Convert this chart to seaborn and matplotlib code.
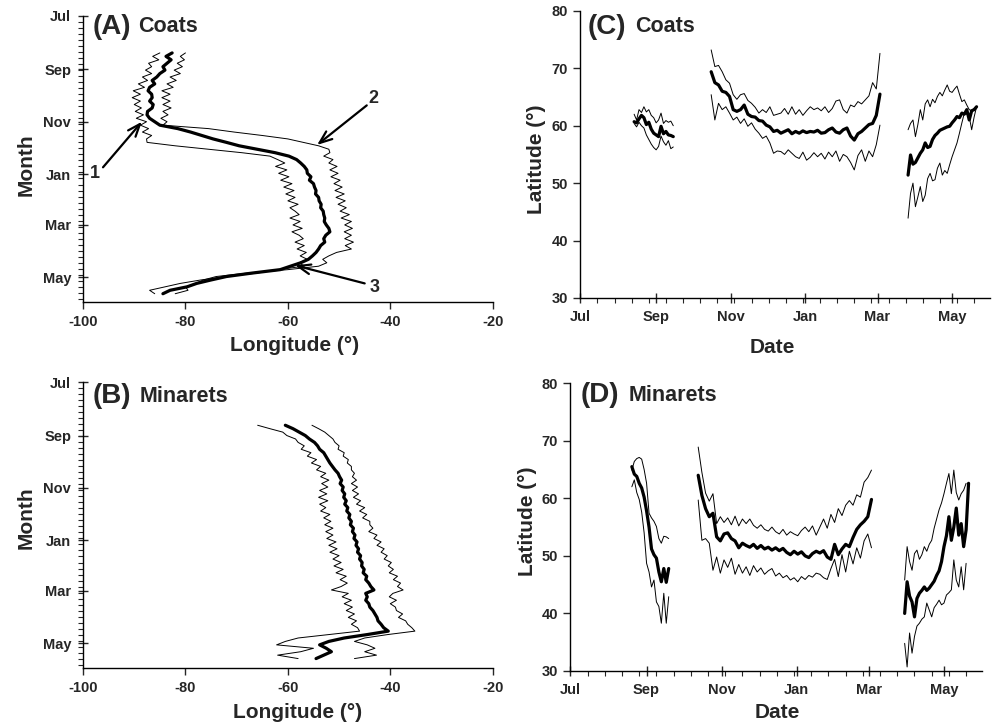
import numpy as np
import pandas as pd
import matplotlib
matplotlib.use('Agg')
import matplotlib.pyplot as plt
import seaborn as sns

# days counted from 1 July
month_days = [0, 62, 123, 184, 243, 304]
month_labels = ['Jul', 'Sep', 'Nov', 'Jan', 'Mar', 'May']
lon_ticks = [-100, -80, -60, -40, -20]
lat_ticks = [30, 40, 50, 60, 70, 80]

# (A) Coats - longitude by day
a_days = list(range(43, 324, 4))
a_mean = [-82.6, -83.8, -82.8, -83.6, -84.4, -84.0, -85.0, -85.6, -86.5, -86.0,
          -87.0, -87.3, -86.6, -86.5, -87.0, -86.3, -86.5, -87.4, -87.5, -87.0,
          -86.0, -85.0, -81.5, -79.0, -76.8, -74.6, -72.0, -69.5, -66.0, -62.5,
          -59.8, -58.3, -57.5, -56.8, -56.3, -56.2, -55.5, -55.8, -55.0, -54.8,
          -54.5, -54.6, -54.0, -53.9, -53.5, -53.6, -53.1, -53.0, -52.8, -52.9,
          -52.5, -52.0, -51.8, -52.6, -53.0, -52.8, -53.6, -54.0, -54.5, -55.2,
          -56.0, -57.5, -59.5, -61.5, -67.0, -72.0, -75.0, -77.8, -79.7, -83.0,
          -84.4]
a_west = [-85.0, -86.4, -85.2, -87.2, -86.6, -87.8, -86.6, -88.4, -87.4, -89.2,
          -88.0, -90.2, -88.8, -90.4, -88.8, -90.0, -88.6, -89.8, -88.2, -89.6,
          -87.6, -88.8, -87.2, -88.4, -86.6, -87.6, -87.5, -82.0, -75.5, -69.0,
          -63.5, -62.0, -60.6, -62.4, -60.2, -61.8, -59.8, -61.4, -59.2, -60.8,
          -58.8, -60.4, -58.6, -60.0, -58.0, -59.6, -58.6, -57.8, -59.6, -57.6,
          -59.0, -57.2, -59.2, -57.8, -57.0, -58.6, -56.8, -58.2, -56.4, -57.6,
          -56.2, -57.8, -56.8, -62.0, -66.0, -72.0, -77.0, -81.0, -84.0, -87.0,
          -86.0]
a_east = [-80.0, -81.0, -80.2, -81.6, -80.6, -82.2, -81.0, -83.0, -81.8, -83.6,
          -82.4, -84.6, -83.0, -84.6, -83.0, -84.4, -82.8, -84.4, -83.4, -84.8,
          -83.6, -84.4, -75.5, -70.5, -65.0, -60.0, -57.0, -54.0, -52.0, -51.8,
          -53.0, -51.2, -52.0, -50.4, -51.8, -50.2, -51.6, -49.8, -51.0, -49.4,
          -50.8, -49.0, -50.6, -48.8, -50.2, -48.6, -49.8, -48.0, -49.6, -47.6,
          -48.9, -47.4, -49.0, -47.6, -48.9, -47.2, -48.8, -47.6, -50.5, -52.0,
          -53.2, -52.4, -54.0, -60.0, -68.0, -74.0, -76.5, -78.0, -80.0, -79.5,
          -82.0]

# (B) Minarets - longitude by day
b_days = list(range(50, 323, 4))
b_mean = [-60.5, -59.0, -57.8, -56.6, -55.8, -54.8, -54.2, -53.8, -53.0, -52.6,
          -52.2, -51.8, -51.3, -50.8, -50.2, -49.9, -49.5, -49.8, -49.2, -49.4,
          -48.9, -49.1, -48.6, -48.9, -48.3, -48.5, -47.9, -48.1, -47.6, -47.8,
          -47.2, -47.4, -46.9, -47.1, -46.5, -46.7, -46.2, -46.4, -45.8, -46.0,
          -45.5, -45.6, -45.1, -45.3, -44.6, -44.8, -44.2, -43.8, -43.2, -44.8,
          -44.5, -44.8, -44.2, -44.0, -43.4, -43.0, -42.6, -42.4, -41.8, -41.3,
          -40.4, -44.5, -49.0, -52.0, -53.8, -52.5, -51.5, -53.0, -54.5]
b_west = [-65.9, -63.5, -61.0, -60.2, -58.5, -58.0, -56.8, -57.4, -55.5, -56.2,
          -54.4, -55.4, -53.6, -54.4, -52.6, -53.6, -52.0, -53.4, -52.2, -53.8,
          -52.4, -54.0, -52.2, -53.8, -52.6, -53.6, -51.8, -53.0, -51.6, -52.8,
          -51.2, -52.6, -51.2, -52.4, -50.6, -52.0, -50.4, -51.8, -50.0, -51.2,
          -49.6, -51.0, -49.2, -50.6, -48.6, -49.8, -48.4, -49.6, -51.5, -48.2,
          -49.4, -47.6, -49.0, -47.4, -48.6, -47.0, -48.2, -46.6, -47.6, -46.4,
          -46.0, -52.0, -58.0, -60.5, -62.2, -55.0, -57.5, -62.0, -58.0]
b_east = [-55.3, -54.0, -52.8, -52.0, -51.2, -50.8, -50.0, -50.2, -49.0, -49.2,
          -48.2, -48.4, -47.6, -47.6, -47.0, -47.4, -46.6, -47.6, -46.4, -47.4,
          -46.2, -47.2, -45.8, -46.6, -45.0, -46.0, -44.6, -45.4, -44.0, -44.0,
          -43.4, -44.2, -42.6, -43.2, -41.8, -42.6, -41.2, -41.8, -40.6, -41.2,
          -39.8, -40.4, -39.4, -40.2, -38.6, -39.4, -38.0, -38.6, -37.5, -39.5,
          -40.2, -38.8, -40.0, -39.0, -38.8, -37.6, -38.4, -37.0, -36.6, -35.8,
          -35.2, -40.5, -45.0, -47.0, -44.5, -43.0, -45.0, -42.7, -47.0]

# (C) Coats - latitude, three tracked periods
c_days1 = list(range(44, 77, 2))
c_mean1 = [60.7, 60.5, 61.2, 61.8, 61.4, 60.2, 60.6, 59.4, 58.7, 58.4, 58.1, 59.9,
           58.6, 59.0, 58.4, 58.3, 58.1]
c_high1 = [62.0, 61.0, 62.8, 62.3, 63.3, 62.4, 62.8, 61.8, 61.4, 60.5, 61.0, 62.2,
           60.4, 60.9, 60.6, 60.8, 60.0]
c_low1 = [60.4, 59.8, 60.6, 60.0, 59.6, 58.4, 57.6, 56.8, 56.2, 55.8, 56.4, 58.2,
          57.2, 56.6, 57.4, 56.0, 56.3]
c_days2 = list(range(107, 246, 3))
c_mean2 = [69.4, 67.5, 67.1, 66.0, 65.8, 65.1, 62.8, 62.5, 62.8, 63.6,
           62.0, 61.6, 61.5, 60.9, 60.8, 60.1, 59.8, 59.0, 59.2, 58.7,
           59.0, 59.3, 58.6, 59.0, 58.7, 59.1, 58.8, 59.0, 58.9, 59.2,
           58.7, 58.8, 59.3, 59.6, 58.9, 58.7, 59.3, 59.6, 58.2, 57.5,
           58.6, 59.0, 59.6, 60.2, 60.4, 61.8, 65.5]
c_high2 = [73.2, 70.3, 70.5, 69.4, 68.0, 67.4, 65.4, 64.6, 65.4, 65.6,
           64.4, 63.9, 63.2, 62.2, 62.8, 62.3, 63.3, 61.8, 62.0, 62.2,
           63.0, 62.0, 63.3, 62.0, 62.8, 61.8, 62.6, 63.3, 62.8, 63.1,
           62.6, 63.3, 62.3, 63.0, 64.3, 64.5, 62.8, 62.2, 63.6, 63.3,
           64.2, 63.8, 64.5, 65.2, 67.5, 66.4, 72.6]
c_low2 = [65.4, 61.0, 63.9, 62.8, 63.3, 62.2, 61.0, 61.5, 60.4, 61.2,
          59.9, 60.5, 59.4, 58.7, 57.8, 58.2, 57.0, 55.2, 55.6, 55.5,
          55.0, 55.8, 55.2, 54.6, 54.3, 55.4, 54.0, 54.5, 55.3, 54.6,
          55.2, 54.2, 55.4, 54.6, 55.6, 53.8, 55.0, 54.6, 53.6, 52.3,
          54.8, 55.8, 53.8, 55.6, 54.6, 56.7, 60.1]
c_days3 = list(range(268, 325, 2))
c_mean3 = [51.4, 54.9, 53.3, 53.6, 54.4, 55.2, 55.8, 57.0, 56.2, 56.4,
           57.6, 58.3, 58.7, 59.2, 59.4, 59.6, 59.8, 59.9, 60.5, 61.0,
           61.6, 61.4, 62.2, 62.0, 62.8, 61.0, 62.6, 62.8, 63.3]
c_high3 = [59.3, 60.4, 61.0, 58.1, 60.2, 62.8, 61.0, 63.8, 64.5, 63.3,
           64.6, 64.0, 65.1, 65.8, 65.2, 66.2, 67.1, 66.0, 65.8, 66.4,
           66.9, 65.5, 64.2, 64.5, 63.6, 62.8, 62.6, 63.0, 63.3]
c_low3 = [43.9, 48.2, 50.0, 45.9, 47.6, 49.4, 46.8, 47.9, 50.8, 51.7,
          50.4, 50.6, 52.6, 53.5, 51.4, 52.2, 51.7, 53.2, 54.6, 55.8,
          57.0, 58.7, 60.5, 62.2, 62.0, 61.6, 59.3, 61.5, 63.3]

# (D) Minarets - latitude, three tracked periods
d_days1 = list(range(50, 81, 2))
d_mean1 = [65.5, 64.2, 63.8, 62.6, 61.8, 60.2, 57.8, 55.0, 51.2, 50.2, 49.6, 47.2,
           45.5, 47.8, 45.4, 47.8]
d_high1 = [64.9, 66.4, 66.9, 67.1, 66.8, 65.0, 62.6, 57.4, 56.6, 56.0, 55.1, 53.0,
           52.2, 53.4, 53.3, 53.0]
d_low1 = [62.0, 63.2, 61.0, 59.8, 57.6, 54.0, 48.7, 47.2, 44.6, 45.8, 42.0, 41.2,
          38.3, 43.5, 38.3, 42.9]
d_days2 = list(range(104, 246, 3))
d_mean2 = [64.0, 60.5, 58.2, 56.8, 57.4, 53.3, 52.6, 53.8, 54.0, 53.0,
           52.6, 51.4, 52.2, 51.8, 51.5, 52.0, 51.3, 51.8, 51.2, 51.5,
           51.0, 51.4, 50.9, 51.3, 50.6, 50.2, 50.8, 50.3, 50.7, 50.0,
           49.7, 50.4, 50.8, 50.5, 50.9, 49.8, 49.4, 52.0, 50.2, 51.2,
           52.0, 51.6, 53.2, 54.6, 55.4, 56.0, 56.8, 59.8]
d_high2 = [68.9, 64.5, 60.9, 59.5, 60.8, 55.6, 56.8, 55.8, 56.6, 55.4,
           56.9, 55.2, 56.4, 55.6, 56.4, 55.3, 54.8, 55.4, 54.6, 54.3,
           55.0, 54.2, 53.8, 54.6, 53.6, 54.2, 53.8, 53.5, 54.4, 55.0,
           54.2, 55.2, 53.6, 55.0, 56.4, 54.8, 57.2, 55.8, 58.2, 57.0,
           58.8, 59.6, 58.8, 60.6, 60.2, 62.8, 63.6, 64.9]
d_low2 = [59.7, 52.7, 53.0, 52.2, 47.5, 49.8, 47.0, 49.3, 48.0, 49.6,
          46.8, 48.5, 47.0, 48.1, 46.6, 48.3, 47.2, 47.9, 46.8, 47.4,
          47.8, 46.5, 47.0, 46.2, 46.6, 45.8, 46.2, 45.5, 46.4, 45.9,
          46.6, 46.3, 47.0, 46.8, 46.2, 45.9, 47.8, 49.4, 46.4, 50.2,
          47.2, 50.8, 48.6, 51.4, 49.6, 52.6, 53.8, 51.4]
d_days3 = list(range(272, 325, 2))
d_mean3 = [40.0, 45.5, 43.0, 42.0, 39.4, 42.6, 43.5, 44.0, 44.6, 44.0,
           44.4, 45.0, 45.6, 46.6, 47.4, 49.0, 51.6, 53.5, 56.8, 52.7,
           55.0, 58.3, 53.6, 55.6, 51.6, 54.5, 62.6]
d_high3 = [45.8, 51.6, 49.0, 47.5, 50.4, 51.0, 49.4, 50.2, 51.6, 50.8,
           52.0, 52.7, 54.8, 56.4, 58.0, 59.2, 60.8, 62.6, 64.3, 60.8,
           64.9, 61.0, 59.7, 60.8, 61.4, 62.6, np.nan]
d_low3 = [34.8, 30.7, 36.6, 33.1, 36.0, 37.8, 38.3, 39.0, 39.4, 41.8,
          40.6, 39.4, 41.0, 41.6, 42.3, 41.5, 41.8, 43.2, 43.6, 44.1,
          49.3, 45.8, 44.6, 48.1, 44.1, 48.7, np.nan]

sns.set_style('ticks')
plt.rcParams['font.family'] = ['Liberation Sans', 'DejaVu Sans']
plt.rcParams['font.weight'] = 'bold'
plt.rcParams['axes.labelweight'] = 'bold'
plt.rcParams['axes.unicode_minus'] = False

THIN = 0.7
THICK = 2.3

fig = plt.figure(figsize=(9.92, 7.25), dpi=100)
ax_a = fig.add_axes([0.0837, 0.583, 0.413, 0.395])
ax_b = fig.add_axes([0.0837, 0.0786, 0.413, 0.394])
ax_c = fig.add_axes([0.585, 0.589, 0.413, 0.396])
ax_d = fig.add_axes([0.575, 0.0745, 0.415, 0.397])


def track_panel(ax, days, west, mean, east):
    for vals, lw in [(west, THIN), (east, THIN), (mean, THICK)]:
        sns.lineplot(x=vals, y=days, ax=ax, color='black', lw=lw,
                     sort=False, estimator=None)
    ax.set_xlim(-100, -20)
    ax.set_ylim(333, 0)
    ax.set_xticks(lon_ticks)
    ax.set_yticks(month_days)
    ax.set_yticklabels(month_labels)
    ax.set_yticks(range(0, 333, 7), minor=True)
    ax.tick_params(axis='y', which='major', direction='inout', length=7, width=1, labelsize=10.5, pad=5)
    ax.tick_params(axis='y', which='minor', direction='out', length=3.5, width=0.8)
    ax.tick_params(axis='x', which='major', direction='out', length=5, width=1, labelsize=10.5, pad=4)
    ax.set_xlabel('Longitude (°)', fontsize=15)
    ax.set_ylabel('Month', fontsize=15)


def lat_panel(ax, segments):
    for days, low, mean, high in segments:
        for vals, lw in [(low, THIN), (high, THIN), (mean, THICK)]:
            sns.lineplot(x=days, y=vals, ax=ax, color='black', lw=lw,
                         sort=False, estimator=None)
    ax.set_xlim(0, 335)
    ax.set_ylim(30, 80)
    ax.set_yticks(lat_ticks)
    ax.set_xticks(month_days)
    ax.set_xticklabels(month_labels)
    ax.set_xticks(range(0, 335, 14), minor=True)
    ax.tick_params(axis='x', which='major', direction='inout', length=7, width=1, labelsize=10.5, pad=5)
    ax.tick_params(axis='x', which='minor', direction='out', length=3.5, width=0.8)
    ax.tick_params(axis='y', which='major', direction='out', length=5, width=1, labelsize=10.5, pad=4)
    ax.set_xlabel('Date', fontsize=15)
    ax.set_ylabel('Latitude (°)', fontsize=15)


track_panel(ax_a, a_days, a_west, a_mean, a_east)
track_panel(ax_b, b_days, b_west, b_mean, b_east)
lat_panel(ax_c, [(c_days1, c_low1, c_mean1, c_high1),
                 (c_days2, c_low2, c_mean2, c_high2),
                 (c_days3, c_low3, c_mean3, c_high3)])
lat_panel(ax_d, [(d_days1, d_low1, d_mean1, d_high1),
                 (d_days2, d_low2, d_mean2, d_high2),
                 (d_days3, d_low3, d_mean3, d_high3)])

for ax in [ax_a, ax_b, ax_c, ax_d]:
    sns.despine(ax=ax)
    for s in ['left', 'bottom']:
        ax.spines[s].set_linewidth(1.0)
        ax.spines[s].set_color('black')

ax_a.yaxis.set_label_coords(-0.115, 0.479)
ax_a.xaxis.set_label_coords(0.517, -0.118)
ax_b.yaxis.set_label_coords(-0.115, 0.528)
ax_b.xaxis.set_label_coords(0.523, -0.122)
ax_c.yaxis.set_label_coords(-0.083, 0.483)
ax_c.xaxis.set_label_coords(0.468, -0.139)
ax_d.yaxis.set_label_coords(-0.080, 0.521)
ax_d.xaxis.set_label_coords(0.503, -0.111)

# panel titles
titles = [(ax_a, '(A)', 'Coats', 0.024, 0.134, 0.962),
          (ax_b, '(B)', 'Minarets', 0.024, 0.139, 0.951),
          (ax_c, '(C)', 'Coats', 0.017, 0.134, 0.944),
          (ax_d, '(D)', 'Minarets', 0.024, 0.141, 0.958)]
for ax, tag, name, x1, x2, y in titles:
    ax.text(x1, y, tag, transform=ax.transAxes, fontsize=20, va='center', ha='left')
    ax.text(x2, y, name, transform=ax.transAxes, fontsize=15.5, va='center', ha='left')

# arrows on panel A
arrows = [('1', (-88.5, 123), (-96.1, 176), (-97.7, 183)),
          ('2', (-54.3, 150), (-44.6, 104), (-43.4, 96)),
          ('3', (-58.6, 290), (-45.0, 311), (-43.0, 316))]
for label, head, tail, pos in arrows:
    ax_a.annotate('', xy=head, xytext=tail,
                  arrowprops=dict(arrowstyle='->,head_length=0.9,head_width=0.35',
                                  lw=1.6, color='black', shrinkA=0, shrinkB=0))
    ax_a.text(pos[0], pos[1], label, fontsize=13, ha='center', va='center')

fig.savefig('out.png', dpi=100)
